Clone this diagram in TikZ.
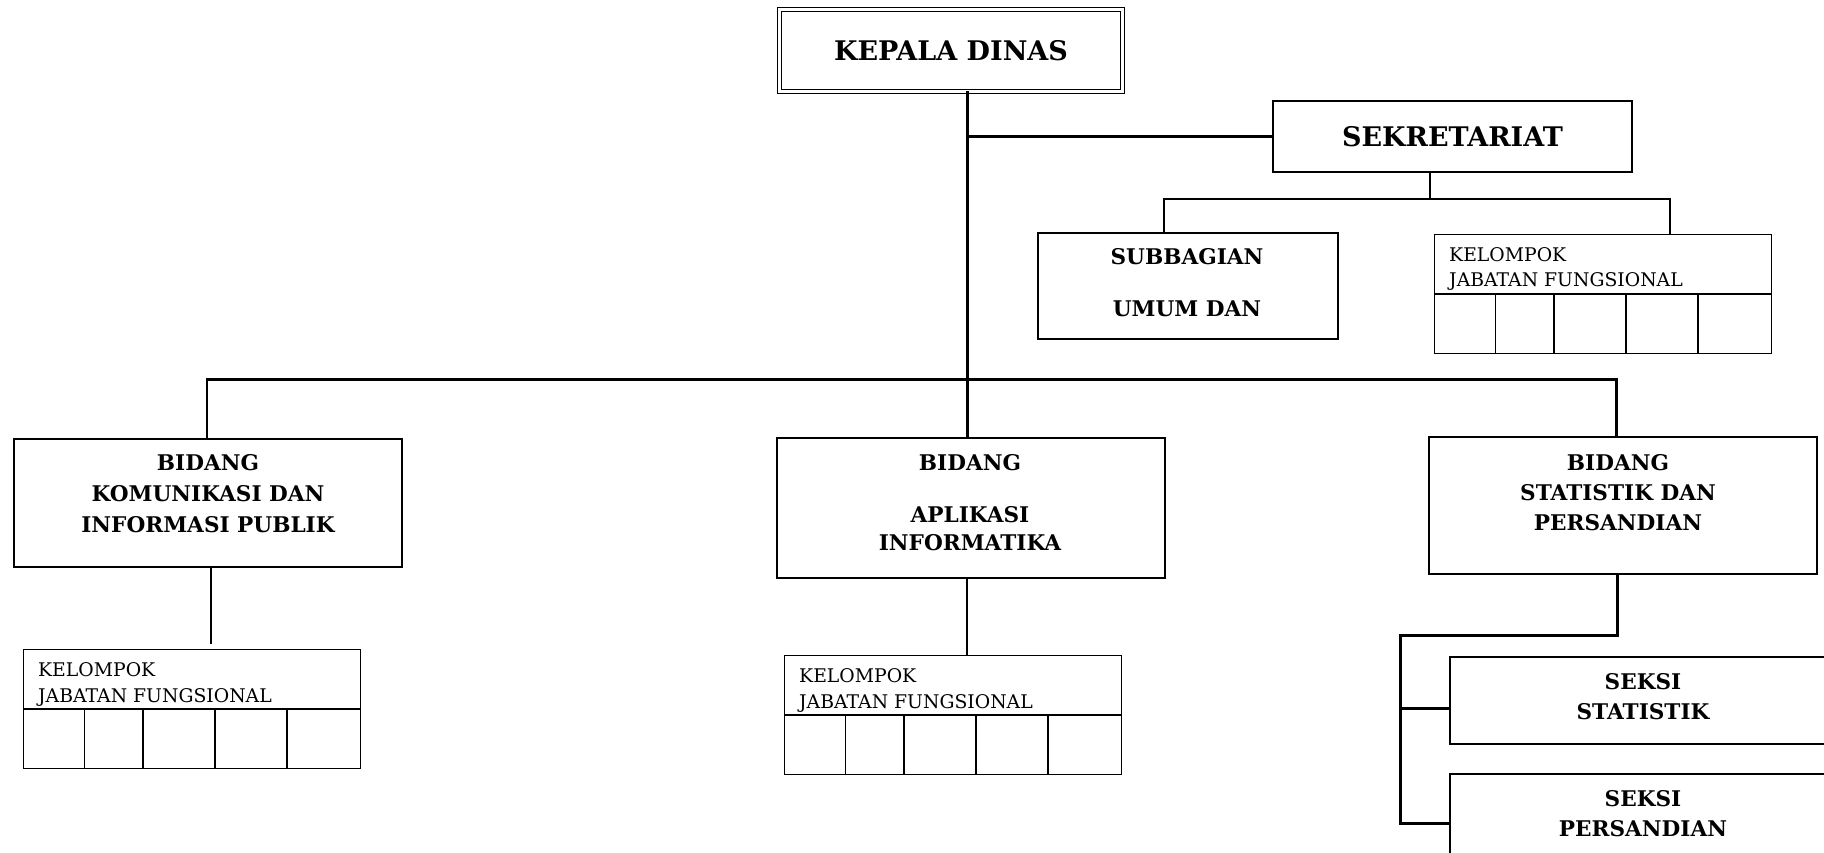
\documentclass[tikz,border=0pt]{standalone}
\usepackage{fontspec}
\setmainfont{DejaVu Serif}
\newcommand{\kjfgrid}[3]{%
  \node[draw, line width=1.3pt, minimum width=337pt, minimum height=119pt, anchor=north west, inner sep=0pt] (#1) at (#2,#3) {};
  \draw[cell] ([yshift=-60pt]#1.north west) -- ([yshift=-60pt]#1.north east);
  \foreach \dx in {61.5,120,192,264} \draw[cell] ([xshift=\dx pt, yshift=-60pt]#1.north west) -- ([xshift=\dx pt]#1.south west);
  \node[ktext] (#1-a) at ([xshift=15pt,yshift=-27.5pt]#1.north west) {KELOMPOK};
  \node[ktext] (#1-b) at ([xshift=15pt,yshift=-53pt]#1.north west) {JABATAN FUNGSIONAL};
}
\begin{document}
\begin{tikzpicture}[x=1pt,y=-1pt,
  box/.style={draw=black, line width=1.6pt, inner sep=0pt, rectangle},
  btitle/.style={font=\bfseries\fontsize{27}{32}\selectfont},
  bname/.style={align=center, font=\bfseries\fontsize{21.6}{31}\selectfont, inner sep=0pt},
  ktext/.style={font=\fontsize{18.8}{22}\selectfont, anchor=base west, inner sep=0pt},
  link/.style={line width=3pt, line cap=rect},
  thinlink/.style={line width=2pt, line cap=rect},
  cell/.style={line width=1.3pt}]
\useasboundingbox (0,0) rectangle (1824,853);
\clip (0,0) rectangle (1824,853);
\fill[white] (0,0) rectangle (1824,853);

% boxes
\node[box, double, line width=1.7pt, double distance=2.2pt, minimum width=343pt, minimum height=82pt, btitle] (kepala) at (951,50.5) {KEPALA DINAS};
\node[box, minimum width=359pt, minimum height=71pt, btitle] (sekr) at (1452.5,136.5) {SEKRETARIAT};
\node[box, minimum width=300pt, minimum height=106pt] (sub) at (1188,286) {};
\node[box, minimum width=388pt, minimum height=128pt] (kom) at (208,503) {};
\node[box, minimum width=388pt, minimum height=140pt] (aplikasi) at (971,508) {};
\node[box, minimum width=388pt, minimum height=137pt] (stat) at (1623,505.5) {};
\node[box, minimum width=390pt, minimum height=87pt] (sstat) at (1645,700.5) {};
\node[box, minimum width=390pt, minimum height=87pt] (spers) at (1645,817.5) {};

% texts
\node[bname] (subt) at (1187,283) {SUBBAGIAN\\[21pt]UMUM DAN};
\node[bname] (komt) at (208,494) {BIDANG\\KOMUNIKASI DAN\\INFORMASI PUBLIK};
\node[bname, font=\bfseries\fontsize{21.6}{28}\selectfont] (aplt) at (970,503) {BIDANG\\[24pt]APLIKASI\\INFORMATIKA};
\node[bname, font=\bfseries\fontsize{21.6}{30}\selectfont] (statt) at (1618,493) {BIDANG\\STATISTIK DAN\\PERSANDIAN};
\node[bname, font=\bfseries\fontsize{21.6}{30}\selectfont] (sstatt) at (1643,697) {SEKSI\\STATISTIK};
\node[bname, font=\bfseries\fontsize{21.6}{30}\selectfont] (spersT) at (1643,814) {SEKSI\\PERSANDIAN};

% kelompok jabatan fungsional
\kjfgrid{kjfr}{1434}{234}
\kjfgrid{kjfl}{23}{649}
\kjfgrid{kjfm}{784}{655}

% coordinates
\coordinate (tx) at (967,0);
\coordinate (sd) at (1430,199);
\coordinate (sh1) at (1164,199);
\coordinate (sh2) at (1670,199);
\coordinate (hL) at (207,379);
\coordinate (hR) at (1616,379);
\coordinate (kl) at (211,643);
\coordinate (s1) at (1617,635);
\coordinate (s2) at (1400,635);
\coordinate (s3) at (1400,823);
\coordinate (b1) at (1400,708);

% connectors
\draw[link] (kepala.south -| tx) -- (aplikasi.north -| tx);
\draw[link] (tx |- sekr.west) -- (sekr.west);
\draw[thinlink] (sekr.south -| sd) -- (sd);
\draw[thinlink] (sub.north -| sh1) -- (sh1) -- (sh2) -- (kjfr.north -| sh2);
\draw[link] (hL) -- (hR);
\draw[thinlink] (hL) -- (kom.north -| hL);
\draw[link] (hR) -- (stat.north -| hR);
\draw[thinlink] (kom.south -| kl) -- (kl);
\draw[thinlink] (aplikasi.south -| tx) -- (kjfm.north -| tx);
\draw[link] (stat.south -| s1) -- (s1) -- (s2) -- (s3) -- (spers.west |- s3);
\draw[link] (b1) -- (sstat.west |- b1);
\end{tikzpicture}
\end{document}
